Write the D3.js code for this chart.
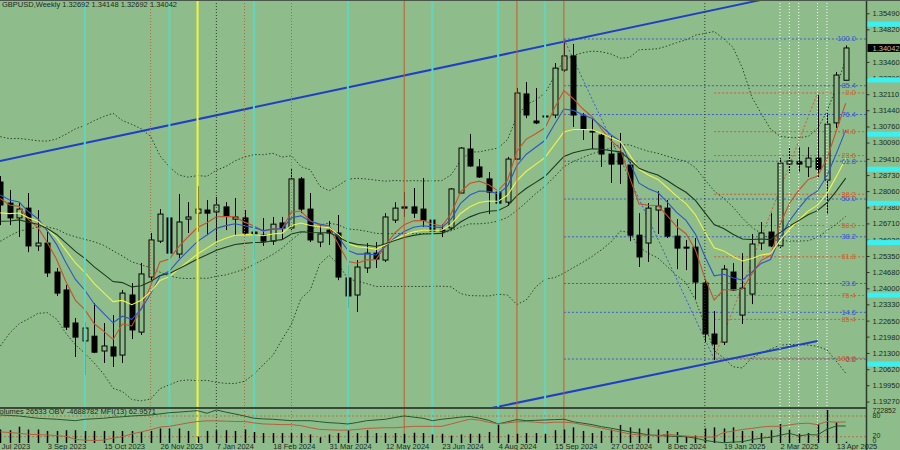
<!DOCTYPE html>
<html><head><meta charset="utf-8">
<script src="https://cdn.jsdelivr.net/npm/d3@7"></script>
<style>
body{margin:0;background:#8ebd8b}
svg{display:block}
text{font-family:"Liberation Sans",Arial,sans-serif}
</style></head>
<body><svg id="c" width="900" height="450"></svg>
<script>
// ---- data (weekly GBPUSD, first bar = week of 30 Jul 2023) ----
const opens=[1.2844,1.2756,1.2694,1.2735,1.2577,1.2589,1.2468,1.2393,1.2255,1.2180,
1.2200,1.2138,1.2155,1.2121,1.2372,1.2217,1.2447,1.2597,1.2694,1.2543,
1.2689,1.2714,1.2727,1.2719,1.2740,1.2689,1.2694,1.2635,1.2622,1.2597,
1.2673,1.2652,1.2857,1.2731,1.2593,1.2643,1.2631,1.2443,1.2372,1.2485,
1.2547,1.2518,1.2685,1.2740,1.2740,1.2731,1.2685,1.2639,1.2652,1.2798,
1.2982,1.2907,1.2857,1.2802,1.2760,1.2940,1.3212,1.3099,1.3116,1.3124,
1.3312,1.3371,1.3120,1.3057,1.3040,1.2961,1.2965,1.2915,1.2622,1.2589,
1.2727,1.2735,1.2618,1.2572,1.2572,1.2422,1.2209,1.2175,1.2468,1.2288,
1.2376,1.2589,1.2635,1.2577,1.2919,1.2928,1.2907,1.2944,1.2852,1.3091,1.32692];
const highs=[1.2869,1.2811,1.2756,1.2798,1.2727,1.2635,1.2485,1.2414,1.2276,1.2259,
1.2338,1.2255,1.2288,1.2393,1.2422,1.2506,1.2631,1.2731,1.2727,1.2794,
1.2760,1.2827,1.2769,1.2781,1.2760,1.2777,1.2727,1.2656,1.2694,1.2698,
1.2698,1.2898,1.2865,1.2798,1.2664,1.2681,1.2706,1.2497,1.2518,1.2589,
1.2593,1.2714,1.2760,1.2802,1.2819,1.2861,1.2740,1.2668,1.2819,1.2990,
1.3045,1.2940,1.2886,1.2852,1.2949,1.3237,1.3262,1.3237,1.3157,1.3341,
1.3429,1.3421,1.3132,1.3107,1.3049,1.3036,1.3049,1.2928,1.2714,1.2756,
1.2806,1.2769,1.2689,1.2602,1.2610,1.2434,1.2305,1.2497,1.2505,1.2547,
1.2627,1.2677,1.2714,1.2944,1.2986,1.2990,1.2990,1.3208,1.3132,1.3304,1.34148];
const lows=[1.2664,1.2664,1.2614,1.2551,1.2556,1.2447,1.2368,1.2226,1.2113,1.2037,
1.2129,1.2088,1.2071,1.2088,1.2188,1.2205,1.2434,1.2589,1.2510,1.2526,
1.2631,1.2635,1.2622,1.2593,1.2643,1.2622,1.2622,1.2522,1.2577,1.2581,
1.2602,1.2643,1.2714,1.2593,1.2572,1.2581,1.2434,1.2317,1.2301,1.2464,
1.2485,1.2510,1.2673,1.2698,1.2694,1.2656,1.2622,1.2614,1.2643,1.2798,
1.2907,1.2861,1.2710,1.2668,1.2744,1.2936,1.3111,1.3086,1.3032,1.3111,
1.3304,1.3074,1.3020,1.2982,1.2907,1.2840,1.2836,1.2597,1.2489,1.2510,
1.2627,1.2610,1.2480,1.2476,1.2355,1.2175,1.2100,1.2163,1.2389,1.2251,
1.2334,1.2560,1.2572,1.2568,1.2882,1.2886,1.2865,1.2865,1.2710,1.3070,1.32692];
const closes=[1.2748,1.2694,1.2731,1.2577,1.2589,1.2464,1.2380,1.2238,1.2196,1.2234,
1.2133,1.2159,1.2117,1.2380,1.2226,1.2460,1.2602,1.2710,1.2547,1.2677,
1.2698,1.2731,1.2714,1.2748,1.2702,1.2698,1.2631,1.2627,1.2597,1.2668,
1.2652,1.2857,1.2731,1.2602,1.2627,1.2631,1.2447,1.2368,1.2489,1.2547,
1.2522,1.2698,1.2735,1.2735,1.2714,1.2685,1.2639,1.2643,1.2815,1.2986,
1.2911,1.2865,1.2802,1.2756,1.2940,1.3216,1.3124,1.3091,1.3120,1.3320,
1.3371,1.3124,1.3066,1.3053,1.2961,1.2919,1.2919,1.2622,1.2531,1.2735,
1.2744,1.2618,1.2568,1.2568,1.2426,1.2209,1.2167,1.2480,1.2393,1.2401,
1.2585,1.2631,1.2577,1.2923,1.2932,1.2919,1.2944,1.2898,1.3086,1.3291,1.34042];
// closes of the 19 weeks before the first visible bar (estimated), used only to warm up the Bollinger bands
const priorCloses=[1.2235,1.2335,1.2415,1.2415,1.2445,1.2565,1.2635,1.2445,1.2445,1.2340,
1.2450,1.2575,1.2820,1.2715,1.2705,1.2840,1.3090,1.2855,1.2850];
// tick volume, thousands
const volumes=[295,280,357,295,295,264,264,280,280,264,
264,264,264,264,264,241,264,319,319,319,
264,140,264,280,280,264,295,241,218,218,
218,218,218,187,124,187,218,280,218,280,
218,218,218,202,225,218,187,202,163,187,
202,202,241,396,187,202,218,218,202,280,
295,342,264,218,264,295,396,342,319,319,
295,264,241,140,163,319,342,319,342,264,
264,218,280,420,295,202,218,420,722.852,451,26.533];
const mfi=[34,32,30,27,26,25,23,21,12,10,
9,10,16,20,28,34,40,48,50,55,
60,64,66,66,65,64,64,60,57,56,
55,55,52,46,41,40,39,39,41,44,
45,46,46,48,50,50,50,50,57,64,
71,68,62,57,60,63,64,62,60,62,
62,60,55,50,45,39,34,28,25,24,
22,28,24,22,20,19,19,32,36,41,
44,48,50,50,54,58,59,55,64,62,62.96];
// OBV, millions
const obv=[-3.15,-3.22,-3.29,-3.45,-3.61,-3.68,-3.75,-3.85,-3.95,-3.75,
-3.68,-3.61,-3.47,-3.40,-3.29,-3.22,-3.15,-3.00,-2.83,-2.75,
-2.65,-2.55,-2.91,-2.45,-2.75,-3.01,-3.30,-3.61,-3.70,-3.75,
-3.85,-3.95,-3.95,-3.95,-4.10,-4.23,-4.30,-4.41,-4.20,-3.95,
-3.85,-3.75,-3.50,-3.29,-3.45,-3.61,-3.95,-3.75,-3.61,-3.45,
-3.36,-3.60,-3.90,-4.41,-4.10,-3.80,-3.95,-3.90,-3.85,-3.80,
-3.75,-4.10,-4.30,-4.50,-4.79,-5.00,-5.25,-5.50,-5.70,-5.95,
-6.00,-6.10,-6.15,-6.19,-6.40,-6.70,-6.90,-7.03,-6.95,-6.89,
-6.60,-6.40,-6.27,-6.00,-5.71,-6.09,-5.90,-5.95,-5.15,-4.69,-4.69];
// EMA values at the first visible bar: periods 5, 8, 13, 21
const emaPeriods=[5,8,13,21];
const emaStart=[1.2775,1.2790,1.2715,1.2680];
const emaColors=["#c8502a","#2f55c8","#f2f24a","#1c3a1c"];
const priceTicks=[1.35490,1.34820,1.33460,1.32790,1.32110,1.31440,1.30760,1.30090,1.29410,1.28730,1.28060,1.27380,1.26710,1.26030,1.25350,1.24680,1.24000,1.23330,1.22650,1.21980,1.21300,1.20620,1.19950,1.19270];
const dateTickIdx=[-1,5,11,17,23,29,35,41,47,53,59,65,71,77,83,89];
const dateTickLabels=["23 Jul 2023","3 Sep 2023","15 Oct 2023","26 Nov 2023","7 Jan 2024","18 Feb 2024","31 Mar 2024","12 May 2024","23 Jun 2024","4 Aug 2024","15 Sep 2024","27 Oct 2024","8 Dec 2024","19 Jan 2025","2 Mar 2025","13 Apr 2025"];
const axisMarks=[1.35035,1.32703,1.30438,1.28975,1.27550,1.25912,1.23718,1.20834];
const vCyan=[9,18,27,37,46,53,58], vRed=[43,55,60], vYellow=[21], vDarkDot=[23,75], vBrownDot=[16,26,31], vWhiteDot=[83,84,85,87,88];
const fibLevels=[0,14.6,23.6,38.2,50,61.8,76.4,85.4,100];
const fibBlue={k1:60,p100:1.34416,k2:76,p0:1.21044};
const fibRed={k1:76,p100:1.21085,k2:87,p0:1.32160};
const upperTrend=[{k:0,p:1.29318},{k:60,p:1.34303}];
const lowerTrend=[{k:76,p:1.20909},{k:87,p:1.21796}];
const title="GBPUSD,Weekly  1.32692 1.34148 1.32692 1.34042";
const subTitle="Volumes 26533  OBV -4688782  MFI(13) 62.9571";

// ---- drawing ----
const W=900,H=450,BG="#8ebd8b",AX=866.5,MAINB=407;
const svg=d3.select("#c");
svg.append("rect").attr("width",W).attr("height",H).attr("fill",BG);
const n=closes.length;
const x=d3.scaleLinear().domain([0,90]).range([0.3,845.7]);
const y=d3.scaleLinear().domain([1.19270,1.35490]).range([401.5,13.3]);
const defs=svg.append("defs");
defs.append("clipPath").attr("id","mc").append("rect").attr("x",0).attr("y",0).attr("width",AX).attr("height",MAINB);
defs.append("clipPath").attr("id","all").append("rect").attr("x",0).attr("y",0).attr("width",AX).attr("height",444);
const main=svg.append("g").attr("clip-path","url(#mc)");

// vertical lines
const vl=svg.append("g").attr("clip-path","url(#all)");
function vlines(arr,color,w,dash){
  vl.selectAll(null).data(arr).join("line").attr("x1",d=>x(d)).attr("x2",d=>x(d)).attr("y1",0).attr("y2",444)
    .attr("stroke",color).attr("stroke-width",w).attr("stroke-dasharray",dash||null);
}
vlines(vCyan,"#62d6bd",2);
vlines(vRed,"#c65a32",1);
vlines(vYellow,"#f4f43a",2);
vlines(vDarkDot,"#2d3d2d",1,"1,2");
vlines(vBrownDot,"#b06a3a",1,"1,2");
vlines(vWhiteDot,"#ffffff",1,"1,2");

// fib levels
function fib(f,color){
  const g=main.append("g");
  const pv=l=>f.p0+(f.p100-f.p0)*l/100;
  g.selectAll("line").data(fibLevels).join("line")
    .attr("x1",x(f.k1)).attr("x2",AX).attr("y1",l=>y(pv(l))).attr("y2",l=>y(pv(l)))
    .attr("stroke",color).attr("stroke-width",1).attr("stroke-dasharray","2,2");
  g.append("line").attr("x1",x(f.k1)).attr("y1",y(f.p100)).attr("x2",x(f.k2)).attr("y2",y(f.p0))
    .attr("stroke",color).attr("stroke-width",1).attr("stroke-dasharray","2,2");
  return pv;
}
const pvB=fib(fibBlue,"#3a5ccc");
const pvR=fib(fibRed,"#cf5a30");

// Bollinger bands (20,2) dotted
const allC=priorCloses.concat(closes), off=priorCloses.length;
const bb=[];
for(let i=0;i<n;i++){const j=i+off;const w=allC.slice(Math.max(0,j-19),j+1);const m=d3.mean(w);const s=Math.sqrt(d3.mean(w,v=>(v-m)*(v-m)));bb.push({i,m,u:m+2*s,l:m-2*s});}
["u","m","l"].forEach(key=>{
  main.append("path").attr("d",d3.line().x(d=>x(d.i)).y(d=>y(d[key]))(bb))
   .attr("fill","none").attr("stroke","#2a462a").attr("stroke-width",1).attr("stroke-dasharray","1.5,2");
});

// candles
const idx=d3.range(n);
const cg=main.append("g");
cg.selectAll("line").data(idx).join("line").attr("x1",i=>Math.round(x(i))+0.5).attr("x2",i=>Math.round(x(i))+0.5)
  .attr("y1",i=>y(highs[i])).attr("y2",i=>y(lows[i])).attr("stroke","#000").attr("stroke-width",1);
cg.selectAll("rect").data(idx).join("rect")
  .attr("x",i=>Math.round(x(i))-2).attr("width",5)
  .attr("y",i=>y(Math.max(opens[i],closes[i])))
  .attr("height",i=>Math.max(1,Math.abs(y(opens[i])-y(closes[i]))))
  .attr("fill",i=>closes[i]>=opens[i]?BG:"#000")
  .attr("stroke","#000").attr("stroke-width",1);

// EMAs
emaPeriods.forEach((p,j)=>{
  const a=2/(p+1); let e=emaStart[j];
  const vals=closes.map((c,i)=>{ if(i>0) e=e+a*(c-e); return e; });
  main.append("path").attr("d",d3.line().x((d,i)=>x(i)).y(d=>y(d))(vals))
    .attr("fill","none").attr("stroke",emaColors[j]).attr("stroke-width",1.1);
});

// trend lines
function tline(t,k0,k1){
  const s=(t[1].p-t[0].p)/(t[1].k-t[0].k);
  const pk=k=>t[0].p+s*(k-t[0].k);
  main.append("line").attr("x1",x(k0)).attr("y1",y(pk(k0))).attr("x2",x(k1)).attr("y2",y(pk(k1)))
    .attr("stroke","#1f3fc4").attr("stroke-width",2);
}
tline(upperTrend,-1,95);
tline(lowerTrend,40,87);

// fib labels
function fibLabels(pv,color){
  main.append("g").selectAll("text").data(fibLevels).join("text")
    .attr("x",856).attr("y",l=>y(pv(l))).attr("dy","0.33em").attr("text-anchor","end")
    .attr("font-size",7.5).attr("fill",color).text(l=>l.toFixed(1));
}
fibLabels(pvB,"#3558d0");
fibLabels(pvR,"#d85a2a");

// ---- sub window ----
const sub=svg.append("g");
sub.append("line").attr("x1",0).attr("x2",AX).attr("y1",408).attr("y2",408).attr("stroke","#3c463c").attr("stroke-width",2);
const ym=d3.scaleLinear().domain([0,100]).range([443.6,409.1]);
const yv=d3.scaleLinear().domain([0,722.852]).range([443,410]);
const yo=d3.scaleLinear().domain([-7.2,-2.3]).range([443.9,408.9]);
[20,80].forEach(l=>sub.append("line").attr("x1",0).attr("x2",AX).attr("y1",ym(l)).attr("y2",ym(l))
  .attr("stroke","#b7714a").attr("stroke-dasharray","2,2"));
sub.selectAll(".vb").data(idx).join("line").attr("x1",i=>Math.round(x(i))+0.5).attr("x2",i=>Math.round(x(i))+0.5)
  .attr("y1",yv(0)).attr("y2",i=>yv(volumes[i])).attr("stroke","#000").attr("stroke-width",1.5);
sub.append("path").attr("d",d3.line().x((d,i)=>x(i)).y(d=>yo(d))(obv)).attr("fill","none").attr("stroke","#24582c").attr("stroke-width",1);
sub.append("path").attr("d",d3.line().x((d,i)=>x(i)).y(d=>ym(d))(mfi)).attr("fill","none").attr("stroke","#b4603a").attr("stroke-width",1);
sub.append("text").attr("x",-5).attr("y",412).attr("dy","0.33em").attr("font-size",7.5).attr("fill","#1d2a1d").text(subTitle);

// ---- right axis ----
svg.append("line").attr("x1",AX).attr("x2",AX).attr("y1",0).attr("y2",H).attr("stroke","#2a3a2a").attr("stroke-width",1.5);
const ra=svg.append("g").attr("transform",`translate(${AX},0)`)
  .call(d3.axisRight(y).tickValues(priceTicks).tickFormat(d3.format(".5f")).tickSize(3).tickPadding(3));
ra.select(".domain").remove();
ra.selectAll("line").attr("stroke","#2a3a2a");
ra.selectAll("text").attr("font-size",7.5).attr("fill","#1d2a1d").attr("font-family","Liberation Sans,Arial,sans-serif");
svg.append("g").selectAll("rect").data(axisMarks).join("rect").attr("x",AX+1).attr("width",W-AX).attr("y",p=>y(p)-2.5).attr("height",5).attr("fill","#3cf0f0");
svg.append("rect").attr("x",AX+1).attr("width",W-AX).attr("y",y(closes[n-1])-4).attr("height",8).attr("fill","#000");
svg.append("text").attr("x",AX+6).attr("y",y(closes[n-1])).attr("dy","0.35em").attr("font-size",7.5).attr("fill","#b8c0b8").text(closes[n-1].toFixed(5));
[["722852",410.7],["80",416],["20",435.3],["0",441]].forEach(([t,yy])=>
  svg.append("text").attr("x",AX+6).attr("y",yy).attr("dy","0.33em").attr("font-size",7).attr("fill","#1d2a1d").text(t));

// ---- bottom axis ----
const ba=svg.append("g").attr("transform","translate(0,443)")
  .call(d3.axisBottom(x).tickValues(dateTickIdx).tickFormat((d,i)=>dateTickLabels[i]).tickSize(0).tickPadding(0));
ba.select(".domain").remove();
ba.selectAll("text").attr("text-anchor","start").attr("dy","0.75em").attr("font-size",7.5).attr("fill","#1d2a1d").attr("font-family","Liberation Sans,Arial,sans-serif");

// title
svg.append("line").attr("x1",0).attr("x2",W).attr("y1",0.5).attr("y2",0.5).attr("stroke","#4a564a");
svg.append("text").attr("x",2).attr("y",5).attr("dy","0.33em").attr("font-size",7.5).attr("fill","#1d2a1d").text(title);
</script></body></html>
